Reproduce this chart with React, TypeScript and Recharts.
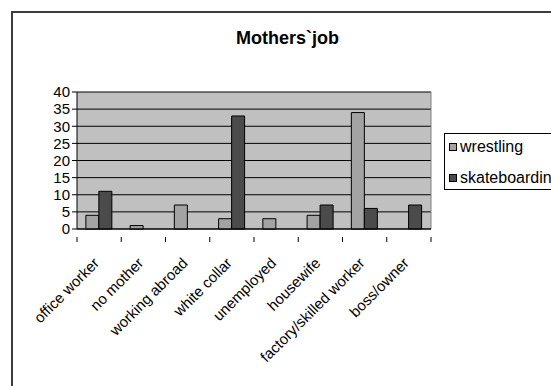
import React from 'react';
import { BarChart, Bar, XAxis, YAxis, CartesianGrid } from 'recharts';

const jobs = [
  'office worker',
  'no mother',
  'working abroad',
  'white collar',
  'unemployed',
  'housewife',
  'factory/skilled worker',
  'boss/owner',
];
const wrestling = [4, 1, 7, 3, 3, 4, 34, 0];
const skateboarding = [11, 0, 0, 33, 0, 7, 6, 7];
const yTicks = [0, 5, 10, 15, 20, 25, 30, 35, 40];

const series = [
  { key: 'wrestling', name: 'wrestling', color: '#a3a3a3' },
  { key: 'skateboarding', name: 'skateboarding', color: '#4b4b4b' },
];

const data = jobs.map((job, i) => ({
  job,
  wrestling: wrestling[i],
  skateboarding: skateboarding[i],
}));

const FONT = '"Liberation Sans", Arial, Helvetica, sans-serif';
const HALF_BAND = 354 / jobs.length / 2;

const JobTick = (props: any) => {
  const { x, y, payload, index, visibleTicksCount } = props;
  const last = index === visibleTicksCount - 1;
  return (
    <g>
      <line x1={x - HALF_BAND} x2={x - HALF_BAND} y1={y} y2={y + 5} stroke="#000" />
      {last && <line x1={x + HALF_BAND} x2={x + HALF_BAND} y1={y} y2={y + 5} stroke="#000" />}
      <text
        transform={`translate(${x + 1},${y + 27}) rotate(-45)`}
        textAnchor="end"
        fontSize={15}
        fontFamily={FONT}
        fill="#000"
      >
        {payload.value}
      </text>
    </g>
  );
};

export default function App() {
  return (
    <div
      style={{
        position: 'absolute',
        left: 0,
        top: 0,
        width: 551,
        height: 386,
        background: '#fff',
        overflow: 'hidden',
      }}
    >
      <div
        style={{
          position: 'absolute',
          left: 11,
          top: 11,
          right: -10,
          bottom: -10,
          borderLeft: '2px solid #3c3c3c',
          borderTop: '2px solid #3c3c3c',
        }}
      />
      <div
        style={{
          position: 'absolute',
          left: 0,
          width: 575,
          top: 28,
          textAlign: 'center',
          fontFamily: FONT,
          fontWeight: 'bold',
          fontSize: 18,
          color: '#000',
        }}
      >
        Mothers`job
      </div>
      <div style={{ position: 'absolute', left: 0, top: 0 }}>
        <BarChart
          width={551}
          height={386}
          data={data}
          margin={{ top: 92, right: 120, bottom: 0, left: 0 }}
          barCategoryGap="20%"
          barGap={0}
        >
          <CartesianGrid
            vertical={false}
            horizontal
            stroke="#000"
            fill="#c0c0c0"
            fillOpacity={1}
            horizontalValues={yTicks}
          />
          <CartesianGrid horizontal={false} vertical verticalPoints={[431]} stroke="#808080" />
          <XAxis
            dataKey="job"
            height={157}
            interval={0}
            tickLine={false}
            axisLine={{ stroke: '#000' }}
            tick={<JobTick />}
          />
          <YAxis
            width={77}
            domain={[0, 40]}
            ticks={yTicks}
            interval={0}
            tickSize={5}
            tickMargin={2}
            axisLine={{ stroke: '#000' }}
            tickLine={{ stroke: '#000' }}
            tick={{ fill: '#000', fontSize: 15, fontFamily: FONT }}
          />
          {series.map((s) => (
            <Bar
              key={s.key}
              dataKey={s.key}
              name={s.name}
              fill={s.color}
              stroke="#000"
              strokeWidth={1}
              isAnimationActive={false}
            />
          ))}
        </BarChart>
      </div>
      <div
        style={{
          position: 'absolute',
          left: 444,
          top: 133,
          width: 125,
          height: 55,
          border: '1px solid #000',
          background: '#fff',
          fontFamily: FONT,
          fontSize: 16,
          color: '#000',
        }}
      >
        {series.map((s, i) => (
          <div
            key={s.key}
            style={{
              position: 'absolute',
              left: 4,
              top: 4 + i * 31,
              height: 18,
              display: 'flex',
              alignItems: 'center',
              whiteSpace: 'nowrap',
            }}
          >
            <span
              style={{
                display: 'inline-block',
                width: 6,
                height: 6,
                background: s.color,
                border: '1px solid #000',
                marginRight: 3,
              }}
            />
            {s.name}
          </div>
        ))}
      </div>
    </div>
  );
}
